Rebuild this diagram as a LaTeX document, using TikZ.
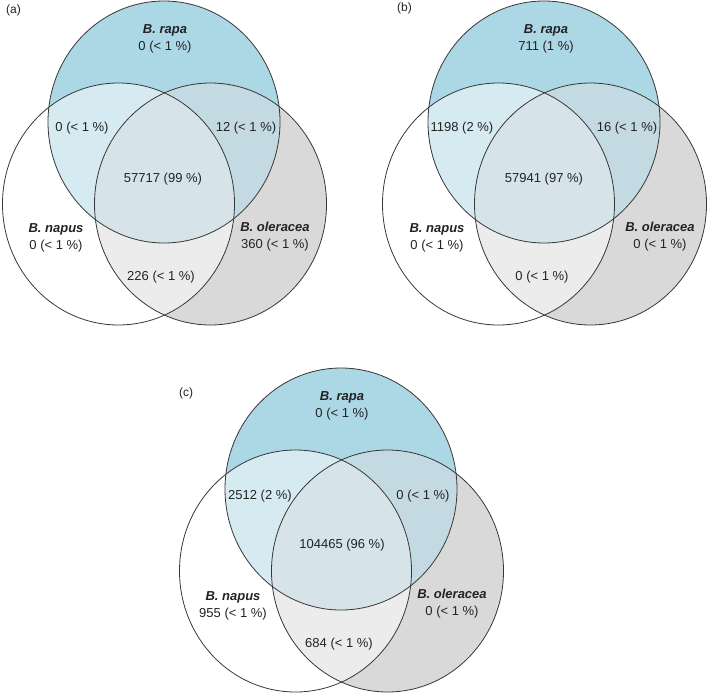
\documentclass[tikz,border=0pt]{standalone}
\usepackage{fontspec}
\setmainfont{Liberation Sans}
\definecolor{cRonly}{RGB}{172,215,228}
\definecolor{cOonly}{RGB}{217,217,217}
\definecolor{cRN}{RGB}{214,235,241}
\definecolor{cRO}{RGB}{196,218,226}
\definecolor{cNO}{RGB}{236,236,236}
\definecolor{cAll}{RGB}{214,227,233}
\definecolor{cEdge}{RGB}{55,55,55}
\definecolor{cText}{RGB}{35,35,35}
\tikzset{
  edge/.style={draw=cEdge, line width=0.8pt},
  lbl/.style={font=\fontsize{13}{17}\selectfont, text=cText, align=center, inner sep=0pt},
  panellbl/.style={font=\fontsize{12}{14}\selectfont, text=cText, anchor=west, inner sep=0pt}
}
\newcommand\vennbase{%
  \fill[cRonly] (164,122) ellipse [x radius=116pt, y radius=121pt];
  \fill[cOonly] (210.5,204) ellipse [x radius=116pt, y radius=121pt];
  \begin{scope}
    \clip (164,122) ellipse [x radius=116pt, y radius=121pt];
    \fill[cRO] (210.5,204) ellipse [x radius=116pt, y radius=121pt];
  \end{scope}
  \begin{scope}
    \clip (118.5,204) ellipse [x radius=116pt, y radius=121pt];
    \fill[cRN] (164,122) ellipse [x radius=116pt, y radius=121pt];
    \fill[cNO] (210.5,204) ellipse [x radius=116pt, y radius=121pt];
    \clip (164,122) ellipse [x radius=116pt, y radius=121pt];
    \fill[cAll] (210.5,204) ellipse [x radius=116pt, y radius=121pt];
  \end{scope}
  \draw[edge] (164,122) ellipse [x radius=116pt, y radius=121pt];
  \draw[edge] (118.5,204) ellipse [x radius=116pt, y radius=121pt];
  \draw[edge] (210.5,204) ellipse [x radius=116pt, y radius=121pt];
}
\begin{document}
\begin{tikzpicture}[x=1pt, y=-1pt]
\useasboundingbox (0,0) rectangle (709,694);
% ---------- panel (a)
\begin{scope}
  \vennbase
  \node[panellbl] (aP) at (6,10) {(a)};
  \node[lbl] (aR) at (165,38.5) {\textbf{\textit{B. rapa}}\\0 (< 1 \%)};
  \node[lbl] (aRN) at (82,128) {0 (< 1 \%)};
  \node[lbl] (aRO) at (246,128) {12 (< 1 \%)};
  \node[lbl] (aAll) at (163,179) {57717 (99 \%)};
  \node[lbl] (aN) at (56,238) {\textbf{\textit{B. napus}}\\0 (< 1 \%)};
  \node[lbl] (aO) at (275,236.5) {\textbf{\textit{B. oleracea}}\\360 (< 1 \%)};
  \node[lbl] (aNO) at (161,277) {226 (< 1 \%)};
\end{scope}
% ---------- panel (b)
\begin{scope}[shift={(380,0)}]
  \vennbase
  \node[panellbl] (bP) at (17,8) {(b)};
  \node[lbl] (bR) at (166,38.5) {\textbf{\textit{B. rapa}}\\711 (1 \%)};
  \node[lbl] (bRN) at (82,128) {1198 (2 \%)};
  \node[lbl] (bRO) at (247,128) {16 (< 1 \%)};
  \node[lbl] (bAll) at (164,179) {57941 (97 \%)};
  \node[lbl] (bN) at (57,238) {\textbf{\textit{B. napus}}\\0 (< 1 \%)};
  \node[lbl] (bO) at (280,236.5) {\textbf{\textit{B. oleracea}}\\0 (< 1 \%)};
  \node[lbl] (bNO) at (162,277) {0 (< 1 \%)};
\end{scope}
% ---------- panel (c)
\begin{scope}[shift={(177,367)}]
  \vennbase
  \node[panellbl] (cP) at (2,26) {(c)};
  \node[lbl] (cR) at (165,38.5) {\textbf{\textit{B. rapa}}\\0 (< 1 \%)};
  \node[lbl] (cRN) at (83,129) {2512 (2 \%)};
  \node[lbl] (cRO) at (246,129) {0 (< 1 \%)};
  \node[lbl] (cAll) at (165,178) {104465 (96 \%)};
  \node[lbl] (cN) at (56,238.5) {\textbf{\textit{B. napus}}\\955 (< 1 \%)};
  \node[lbl] (cO) at (275,236.5) {\textbf{\textit{B. oleracea}}\\0 (< 1 \%)};
  \node[lbl] (cNO) at (162,277) {684 (< 1 \%)};
\end{scope}
\end{tikzpicture}
\end{document}
